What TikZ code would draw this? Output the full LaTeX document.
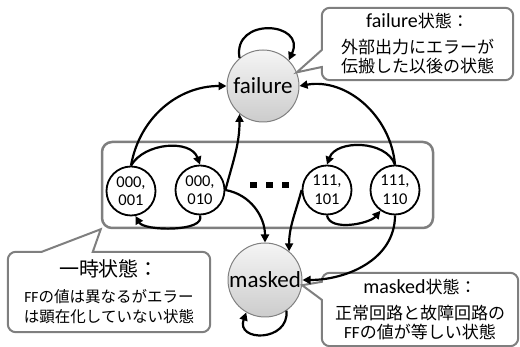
\documentclass[tikz,border=0pt]{standalone}
\usepackage{fontspec}
\setmainfont{Carlito}
\newfontfamily\jp{Noto Sans CJK JP}
\usepackage{tikz}
\usetikzlibrary{arrows.meta,positioning,calc}

\definecolor{linegray}{RGB}{127,127,127}

\begin{document}
\begin{tikzpicture}[x=1pt, y=1pt,
    >={Triangle[length=8pt,width=8pt]},
    bigstate/.style={circle, draw=gray, line width=1pt, top color=gray!8, bottom color=gray!40,
        inner sep=0pt, font=\fontsize{23}{23}\selectfont},
    ffstate/.style={circle, draw, line width=1.8pt, fill=white, minimum size=49pt,
        inner sep=0pt, align=center, font=\fontsize{16.5}{18.5}\selectfont},
    trans/.style={->, line width=2.2pt},
    notebox/.style={draw=linegray, line width=2pt},
    notetext/.style={inner sep=0pt, align=center, font=\fontsize{17}{19}\selectfont}]

    \useasboundingbox (0,0) rectangle (520,347);

    % Transient states
    \node[draw=linegray, line width=2.5pt, rounded corners=10pt,
          minimum width=331pt, minimum height=86pt] (group) at (267.5,162) {};

    % States
    \node[bigstate, minimum size=72pt] (failure) at (263,261) {failure};
    \node[bigstate, minimum size=74pt] (masked) at (265,67) {masked};
    \node[ffstate] (s1) at (131,156) {000,\\001};
    \node[ffstate] (s2) at (200,157) {000,\\010};
    \node[ffstate] (s3) at (327,157) {111,\\101};
    \node[ffstate] (s4) at (395,157) {111,\\110};
    \node[inner sep=0pt] (dots) at (269,162)
        {\rule{7pt}{6pt}\hspace{9pt}\rule{7pt}{6pt}\hspace{9pt}\rule{7pt}{6pt}};

    % Notes
    \node[notetext, minimum width=191pt, minimum height=72pt] (fnote) at (417.5,303)
        {{\fontsize{20}{20}\selectfont failure}{\jp 状態：}\\[7pt]{\jp 外部出力にエラーが}\\{\jp 伝搬した以後の状態}};
    \node[notetext, minimum width=196pt, minimum height=73pt] (mnote) at (420,37.5)
        {{\fontsize{20}{20}\selectfont masked}{\jp 状態：}\\[7pt]{\jp 正常回路と故障回路の}\\FF{\jp の値が等しい状態}};
    \node[notetext, font=\fontsize{15.5}{20}\selectfont, minimum width=202pt, minimum height=80pt]
        (tnote) at (109,55)
        {{\fontsize{20}{20}\selectfont\jp 一時状態：}\\[6pt]FF{\jp の値は異なるがエラー}\\{\jp は顕在化していない状態}};

    \draw[notebox] (failure.22) -- ([yshift=-6pt]fnote.west) [rounded corners=8pt]
        -- (fnote.north west) -- (fnote.north east) -- (fnote.south east) -- (fnote.south west)
        [sharp corners] -- ([yshift=-23pt]fnote.west) -- cycle;
    \draw[notebox] (masked.-8) -- ([yshift=-27pt]mnote.north west) [rounded corners=8pt]
        -- (mnote.south west) -- (mnote.south east) -- (mnote.north east) -- (mnote.north west)
        [sharp corners] -- ([yshift=-9pt]mnote.north west) -- cycle;
    \draw[notebox] (group.south west) -- ([xshift=85pt]tnote.north west) [rounded corners=8pt]
        -- (tnote.north east) -- (tnote.south east) -- (tnote.south west) -- (tnote.north west)
        [sharp corners] -- ([xshift=34pt]tnote.north west) -- cycle;

    % Transitions
    \draw[trans] (failure.130) to[out=100, in=65, looseness=2.2] (failure.45);
    \draw[trans] (masked.-55) to[out=-85, in=-110, looseness=2] (masked.-120);
    \draw[trans] (s1.north) to[out=80, in=180] (failure.west);
    \draw[trans] (s1.north) to[out=60, in=110] (s2.north);
    \draw[trans] (s2.south) to[out=-70, in=-60, looseness=0.7] (s1.-80);
    \draw[trans] (s2.east) to[out=75, in=-90] (failure.-130);
    \draw[trans] (s2.east) to[out=-10, in=90] (masked.north);
    \draw[trans] (s3.west) to[out=-105, in=90] (masked.50);
    \draw[trans] (s4.north) to[out=110, in=70] (s3.north);
    \draw[trans] (s4.north) to[out=95, in=10] (failure.east);
    \draw[trans] (s3.south) to[out=-80, in=-130, looseness=0.8] (s4.-125);
    \draw[trans] (s4.south) to[out=-90, in=0] (masked.east);
\end{tikzpicture}
\end{document}
